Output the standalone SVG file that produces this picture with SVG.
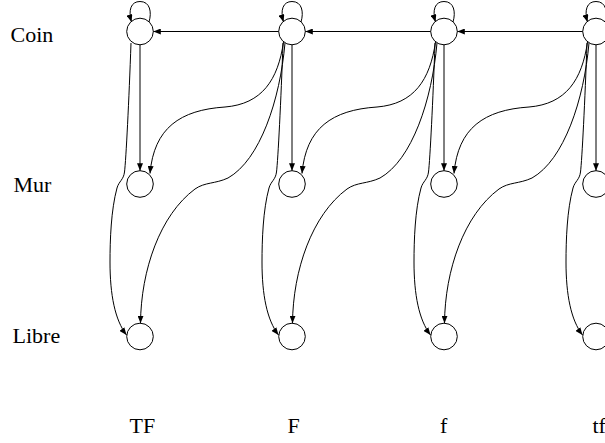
<svg xmlns="http://www.w3.org/2000/svg" width="605" height="443" viewBox="0 0 605 443">
<style>
.n{fill:#fff;stroke:#000;stroke-width:1}
.e{fill:none;stroke:#000;stroke-width:1;marker-end:url(#ah)}
.t{font-family:"Liberation Serif","Times New Roman",serif;font-size:22px;fill:#000}
</style>
<defs>
<marker id="ah" markerUnits="userSpaceOnUse" markerWidth="8" markerHeight="6" refX="7.5" refY="3" orient="auto">
<path d="M0,0 L7.5,3 L0,6 z" fill="#000"/>
</marker>
</defs>
<rect width="605" height="443" fill="#fff"/>
<g id="labels">
<text class="t" x="10.5" y="41.7">Coin</text>
<text class="t" x="13.5" y="192">Mur</text>
<text class="t" x="12.5" y="343">Libre</text>
<text class="t" x="129.5" y="433">TF</text>
<text class="t" x="287.5" y="433">F</text>
<text class="t" x="440" y="433">f</text>
<text class="t" x="592.5" y="433">tf</text>
</g>
<g id="TF_Coin"><circle class="n" cx="140" cy="31.5" r="13.3"/></g>
<g id="TF_Mur"><circle class="n" cx="140" cy="184" r="13.3"/></g>
<g id="TF_Libre"><circle class="n" cx="140" cy="336.5" r="13.3"/></g>
<g id="F_Coin"><circle class="n" cx="292" cy="31.5" r="13.3"/></g>
<g id="F_Mur"><circle class="n" cx="292" cy="184" r="13.3"/></g>
<g id="F_Libre"><circle class="n" cx="292" cy="336.5" r="13.3"/></g>
<g id="f_Coin"><circle class="n" cx="444" cy="31.5" r="13.3"/></g>
<g id="f_Mur"><circle class="n" cx="444" cy="184" r="13.3"/></g>
<g id="f_Libre"><circle class="n" cx="444" cy="336.5" r="13.3"/></g>
<g id="tf_Coin"><circle class="n" cx="596" cy="31.5" r="13.3"/></g>
<g id="tf_Mur"><circle class="n" cx="596" cy="184" r="13.3"/></g>
<g id="tf_Libre"><circle class="n" cx="596" cy="336.5" r="13.3"/></g>
<g id="edges">
<!-- self loops -->
<path class="e" d="M149,22 C152,12 150,1.5 140,1.5 C131,1.5 128,10 131.5,22"/>
<path class="e" d="M301,22 C304,12 302,1.5 292,1.5 C283,1.5 280,10 283.5,22"/>
<path class="e" d="M453,22 C456,12 454,1.5 444,1.5 C435,1.5 432,10 435.5,22"/>
<path class="e" d="M605,22 C608,12 606,1.5 596,1.5 C587,1.5 584,10 587.5,22"/>
<!-- horizontal -->
<path class="e" d="M278.7,31.5 L153.3,31.5"/>
<path class="e" d="M430.7,31.5 L305.3,31.5"/>
<path class="e" d="M582.7,31.5 L457.3,31.5"/>
<!-- vertical Coin to Mur -->
<path class="e" d="M140,44.8 L140,170.7"/>
<path class="e" d="M292,44.8 L292,170.7"/>
<path class="e" d="M444,44.8 L444,170.7"/>
<path class="e" d="M596,44.8 L596,170.7"/>
<!-- S curves Coin(k+1) to Mur(k) -->
<path class="e" d="M283.5,42 C278,80 262,104 225,107 C180,110 154,128 150,173.5"/>
<path class="e" d="M435.5,42 C430,80 414,104 377,107 C332,110 306,128 302,173.5"/>
<path class="e" d="M587.5,42 C582,80 566,104 529,107 C484,110 458,128 454,173.5"/>
<!-- curves Coin(k+1) to Libre(k) -->
<path class="e" d="M285,43 C280,100 260,160 228,178 C215,184 205,182 195,189 C160,215 141,270 140.5,323.2"/>
<path class="e" d="M437,43 C432,100 412,160 380,178 C367,184 357,182 347,189 C312,215 293,270 292.5,323.2"/>
<path class="e" d="M589,43 C584,100 564,160 532,178 C519,184 509,182 499,189 C464,215 445,270 444.5,323.2"/>
<!-- same column Coin to Libre -->
<path class="e" d="M131,43 C129,100 126,160 124.5,172 C123.5,180 119,181 117,188 C111,210 110,240 110,262 C110,295 115,320 126.5,335"/>
<path class="e" d="M283,43 C281,100 278,160 276.5,172 C275.5,180 271,181 269,188 C263,210 262,240 262,262 C262,295 267,320 278.5,335"/>
<path class="e" d="M435,43 C433,100 430,160 428.5,172 C427.5,180 423,181 421,188 C415,210 414,240 414,262 C414,295 419,320 430.5,335"/>
<path class="e" d="M587,43 C585,100 582,160 580.5,172 C579.5,180 575,181 573,188 C567,210 566,240 566,262 C566,295 571,320 582.5,335"/>
</g>
</svg>
